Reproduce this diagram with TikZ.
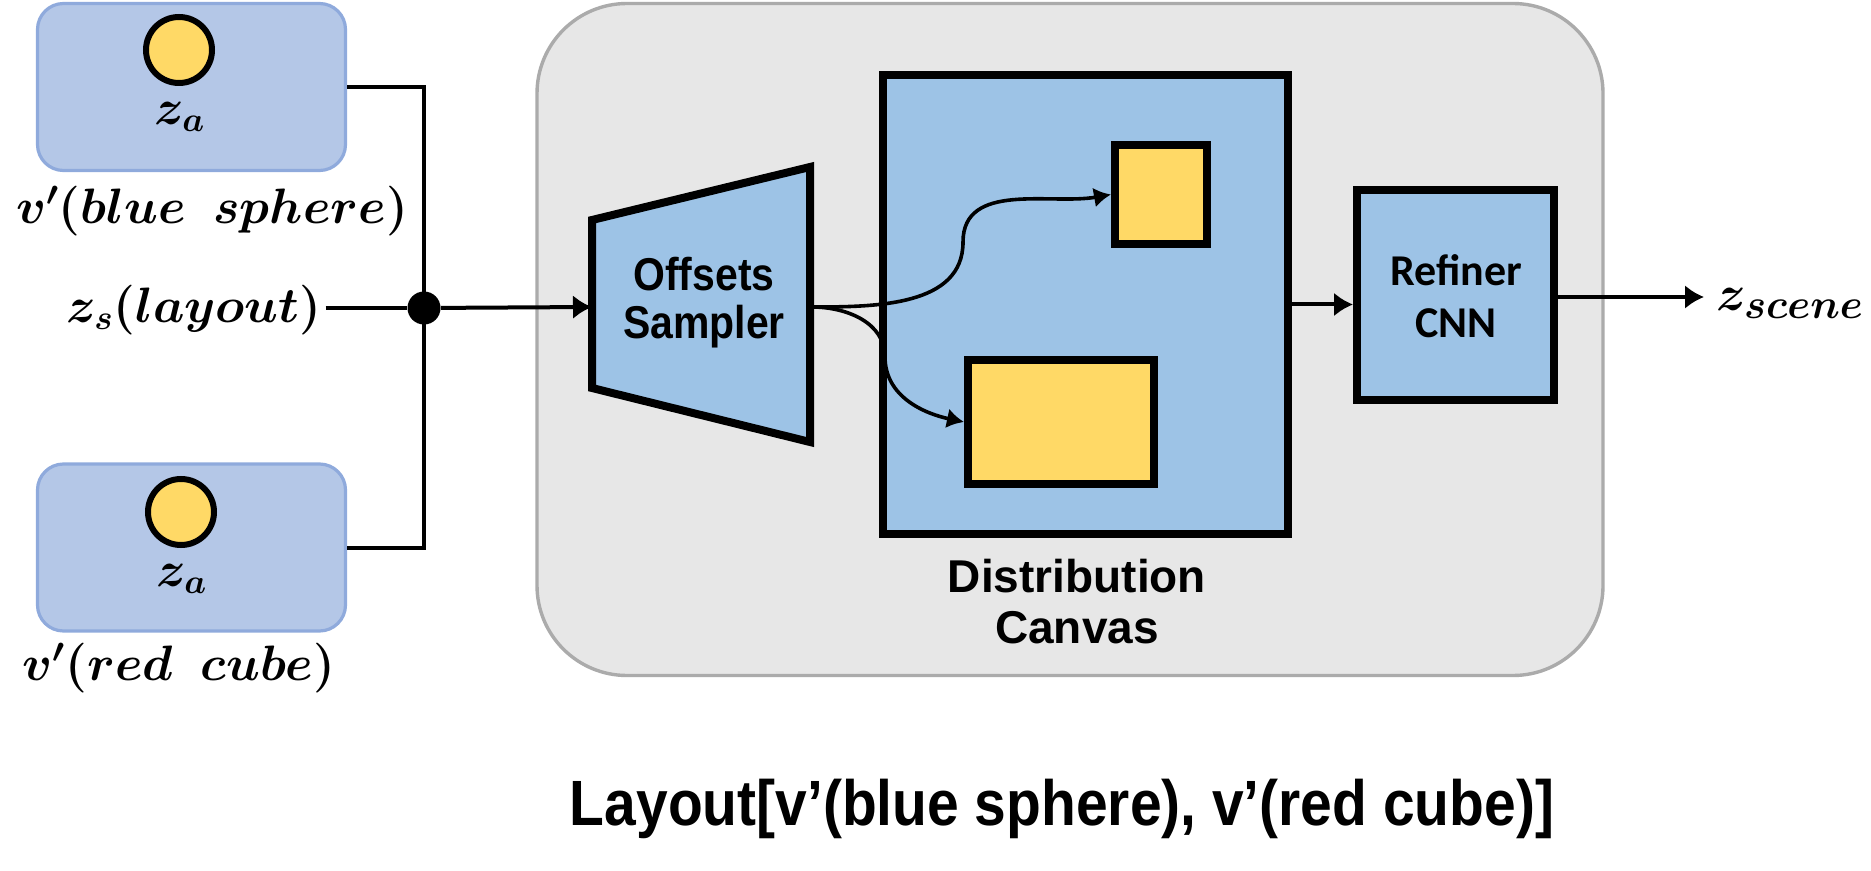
\documentclass[tikz,border=0pt]{standalone}
\usepackage{fontspec}
\usepackage{bm}
\usetikzlibrary{arrows.meta}
\newfontfamily\condsans[FakeStretch=0.89]{Liberation Sans}
\newfontfamily\helv{Liberation Sans}
\newfontfamily\calib{Carlito}
\definecolor{inblue}{HTML}{B4C7E7}
\definecolor{inblueedge}{HTML}{8FAADC}
\definecolor{procblue}{HTML}{9DC3E6}
\definecolor{boxyellow}{HTML}{FFD966}
\definecolor{panelgray}{HTML}{E7E7E7}
\definecolor{paneledge}{HTML}{ABABAB}
\begin{document}
\begin{tikzpicture}[x=0.5pt,y=-0.5pt,
  inbox/.style={draw=inblueedge, fill=inblue, line width=1.6pt, rounded corners=13pt,
    minimum width=154pt, minimum height=83.5pt, inner sep=0pt},
  latent/.style={circle, draw=black, fill=boxyellow, line width=3pt, minimum size=33pt, inner sep=0pt},
  mathlbl/.style={inner sep=2pt, font=\fontsize{23}{28}\selectfont},
  conn/.style={line width=2pt},
  arr/.style={conn, -{Latex[length=9.5pt,width=12pt]}},
  carr/.style={line width=1.8pt, -{Latex[length=8.5pt,width=10pt]}},
  thickbox/.style={draw=black, line width=4pt, fill=procblue},
  yellowbox/.style={draw=black, line width=4pt, fill=boxyellow, inner sep=0pt},
  panel/.style={draw=paneledge, fill=panelgray, line width=1.7pt, rounded corners=45pt, inner sep=0pt},
  sanslbl/.style={align=center, inner sep=0pt}
]
\useasboundingbox (0,0) rectangle (1871,871);

% gray panel
\node[panel, minimum width=533pt, minimum height=336pt] (panel) at (1070,339.5) {};

% input boxes
\node[inbox] (boxA) at (191.5,87) {};
\node[inbox] (boxB) at (191.5,547.5) {};
\node[latent] (circA) at (179,50) {};
\node[latent] (circB) at (181,512) {};
\node[mathlbl, font=\fontsize{25}{28}\selectfont] (zaA) at (180,117) {$\bm{z_a}$};
\node[mathlbl, font=\fontsize{25}{28}\selectfont] (zaB) at (182,579) {$\bm{z_a}$};
\node[mathlbl] (vA) at (212,211) {$\bm{v'(blue\ \ sphere)}$};
\node[mathlbl] (vB) at (179,668) {$\bm{v'(red\ \ cube)}$};
\node[mathlbl] (zs) at (194,310) {$\bm{z_s(layout)}$};

% junction
\node[circle, fill=black, minimum size=16.5pt, inner sep=0pt] (J) at (424,308) {};
\draw[conn] (boxA.east) -| (J.center);
\draw[conn] (boxB.east) -| (J.center);
\draw[conn] (zs.east |- J) -- (J);

% offsets sampler (trapezoid)
\draw[thickbox] (592,220) -- (810,167) -- (810,442) -- (592,388) -- cycle;
\node[sanslbl, font=\condsans\bfseries\fontsize{23}{24}\selectfont] (sampler) at (704,303) {Offsets\\Sampler};
\coordinate (tL) at (592,307);
\coordinate (tR) at (812,307);
\draw[arr] (J) -- (tL);

% distribution canvas
\node[thickbox, minimum width=202.5pt, minimum height=229.5pt, inner sep=0pt] (canvas) at (1085.5,304.5) {};
\node[yellowbox, minimum width=46pt, minimum height=49.5pt] (small) at (1161,194.5) {};
\node[yellowbox, minimum width=93pt, minimum height=62pt] (big) at (1061,422) {};
\node[sanslbl, font=\helv\bfseries\fontsize{23}{25.5}\selectfont] (dclabel) at (1077,602) {Distribution\\Canvas};

\coordinate (bendA) at (963,242);
\coordinate (bendB) at (885,357);
\draw[carr] (tR) to[out=0,in=-90] (bendA) to[out=90,in=190] (small.west);
\draw[carr] (tR) to[out=0,in=90] (bendB) to[out=-90,in=168] (big.west);

% refiner
\node[thickbox, minimum width=98.5pt, minimum height=105pt, inner sep=0pt] (refiner) at (1455.5,295) {};
\node[sanslbl, font=\calib\bfseries\fontsize{22}{26}\selectfont] (reflabel) at (1456,296) {Refiner\\CNN};
\draw[arr] (canvas.east) -- (canvas.east -| refiner.west);

% output
\coordinate (outEnd) at (1704,297);
\draw[arr] (refiner.east |- outEnd) -- (outEnd);
\node[anchor=base west, inner sep=0pt, font=\fontsize{30}{34}\selectfont] (zscene) at (1716,311) {$\bm{z_{scene}}$};

% title
\node[font=\condsans\bfseries\fontsize{32}{38}\selectfont, inner sep=0pt] (title) at (1062,809) {Layout[v’(blue sphere), v’(red cube)]};
\end{tikzpicture}
\end{document}
